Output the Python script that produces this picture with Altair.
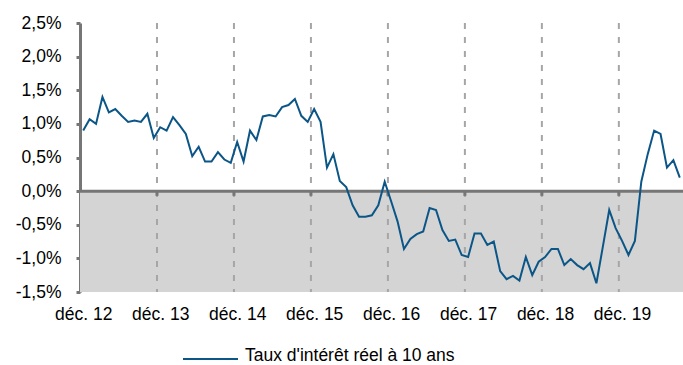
import altair as alt
import pandas as pd

# Monthly real 10-year interest rate (%), Dec 2012 -> Sep 2020
values = [
    0.90, 1.07, 1.00, 1.40, 1.17, 1.22, 1.12, 1.03, 1.05, 1.03, 1.15, 0.79,
    0.95, 0.90, 1.10, 0.98, 0.85, 0.52, 0.66, 0.44, 0.44, 0.58, 0.47, 0.42,
    0.73, 0.44, 0.90, 0.76, 1.11, 1.13, 1.11, 1.25, 1.28, 1.37, 1.12, 1.03,
    1.22, 1.03, 0.35, 0.55, 0.15, 0.06, -0.21, -0.38, -0.38, -0.36, -0.21, 0.14,
    -0.15, -0.45, -0.86, -0.71, -0.64, -0.60, -0.25, -0.28, -0.58, -0.74, -0.72, -0.95,
    -0.98, -0.63, -0.63, -0.80, -0.75, -1.19, -1.31, -1.26, -1.33, -0.98, -1.25, -1.05,
    -0.98, -0.86, -0.86, -1.10, -1.01, -1.10, -1.16, -1.07, -1.37, -0.83, -0.28, -0.55,
    -0.74, -0.95, -0.74, 0.14, 0.55, 0.90, 0.85, 0.35, 0.46, 0.20,
]
month_index = list(range(len(values)))
tick_positions = [0, 12, 24, 36, 48, 60, 72, 84]          # déc. 12 ... déc. 19
year_separators = [11.5, 23.5, 35.5, 47.5, 59.5, 71.5, 83.5]
y_ticks = [-1.5, -1.0, -0.5, 0.0, 0.5, 1.0, 1.5, 2.0, 2.5]
series_name = "Taux d'intérêt réel à 10 ans"

FONT = "Liberation Sans"
FS = 17.5
BLUE = "#0B5687"
AXIS_GREY = "#767676"

df = pd.DataFrame({"m": month_index, "v": values})
sep_df = pd.DataFrame({"m": year_separators, "y0": [0.0] * 7, "y1": [-0.07] * 7})
band_df = pd.DataFrame({"x": [-0.5], "x2": [93.5], "y": [0.0], "y2": [-1.5]})
one = pd.DataFrame({"a": [0]})

xscale = alt.Scale(domain=[-0.5, 93.5], nice=False, zero=False)
yscale = alt.Scale(domain=[-1.5, 2.5], nice=False, zero=False)

x_axis = alt.Axis(values=tick_positions, domain=False, ticks=False, grid=False,
                  labelExpr="'déc. ' + (12 + datum.value / 12)",
                  labelFont=FONT, labelFontSize=FS, labelColor="#000000",
                  labelPadding=13, labelFlush=False, labelOverlap=False)
y_axis = alt.Axis(values=y_ticks, grid=False, domainColor=AXIS_GREY, domainWidth=3,
                  tickColor=AXIS_GREY, tickWidth=3, tickSize=4,
                  labelExpr="(datum.value < 0 ? '-' : '') + replace(format(abs(datum.value), '.1f'), '.', ',') + '%'",
                  labelFont=FONT, labelFontSize=FS, labelColor="#000000",
                  labelPadding=15, labelFlush=False, labelOverlap=False)

band = alt.Chart(band_df).mark_rect(color="#D4D4D4").encode(
    x=alt.X("x:Q", scale=xscale, axis=x_axis, title=None), x2="x2:Q",
    y=alt.Y("y:Q", scale=yscale, axis=y_axis, title=None), y2="y2:Q",
)

grid = alt.Chart(sep_df).mark_rule(color="#A6A6A6", strokeWidth=2, strokeDash=[6, 8]).encode(
    x=alt.X("m:Q", scale=xscale, axis=x_axis, title=None),
    y=alt.value(0), y2=alt.value(269),
)

zero = alt.Chart(band_df).mark_rule(color=AXIS_GREY, strokeWidth=3).encode(
    x=alt.X("x:Q", scale=xscale, axis=x_axis, title=None), x2="x2:Q",
    y=alt.Y("y:Q", scale=yscale, axis=y_axis, title=None),
)

zero_ticks = alt.Chart(sep_df).mark_rule(color=AXIS_GREY, strokeWidth=3).encode(
    x=alt.X("m:Q", scale=xscale, axis=x_axis, title=None),
    y=alt.Y("y0:Q", scale=yscale, axis=y_axis, title=None), y2="y1:Q",
)

line = alt.Chart(df).mark_line(color=BLUE, strokeWidth=2).encode(
    x=alt.X("m:Q", scale=xscale, axis=x_axis, title=None),
    y=alt.Y("v:Q", scale=yscale, axis=y_axis, title=None),
)

legend_line = alt.Chart(one).mark_rule(color=BLUE, strokeWidth=2).encode(
    x=alt.value(103), x2=alt.value(158), y=alt.value(336),
)
legend_text = alt.Chart(one).mark_text(
    align="left", baseline="alphabetic", font=FONT, fontSize=FS, color="#000000"
).encode(x=alt.value(165), y=alt.value(338), text=alt.value(series_name))

chart = alt.layer(band, grid, zero, zero_ticks, line, legend_line, legend_text).properties(
    width=603, height=269, autosize="none",
    padding={"left": 80, "top": 23, "right": 0, "bottom": 73},
    background="white",
).configure_view(stroke=None)

chart.save("out.html", embed_options={"renderer": "svg", "actions": False})
